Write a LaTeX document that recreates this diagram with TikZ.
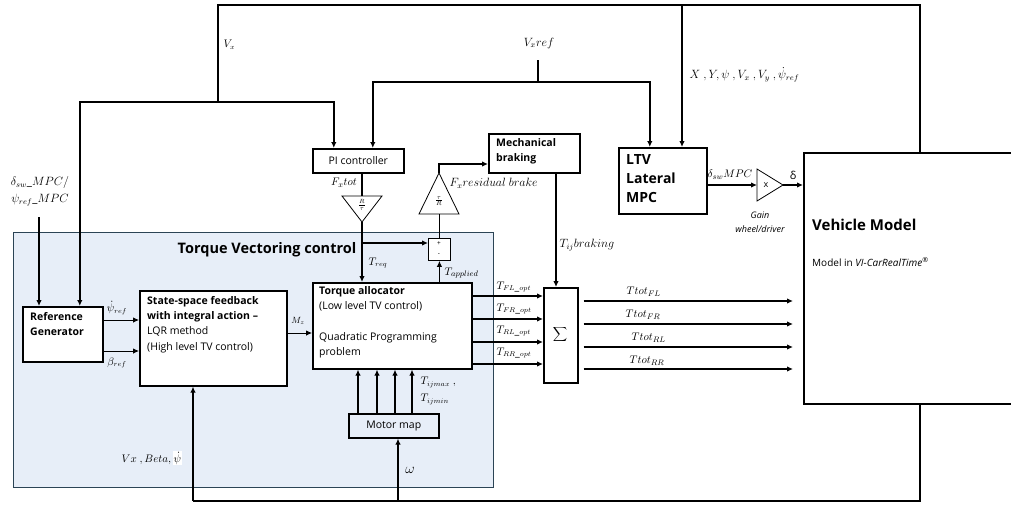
\documentclass[tikz,border=0pt]{standalone}
\usepackage{fontspec}
\setmainfont{Open Sans}
\usetikzlibrary{arrows.meta}
\definecolor{tvf}{HTML}{E7EEF8}
\definecolor{tvb}{HTML}{2B4455}
\setlength\fboxsep{0.5pt}
\begin{document}
\begin{tikzpicture}[x=1pt,y=-1pt,
  ln/.style={line width=1.6pt},
  tn/.style={line width=0.8pt},
  md/.style={line width=1.2pt},
  arr/.style={-{Latex[length=6pt,width=5.5pt]}},
  box/.style={draw,line width=1.6pt,fill=white,inner sep=0pt,anchor=north west},
  txt/.style={inner sep=0pt,anchor=north west,align=left,font=\fontsize{10.5}{15.3}\selectfont},
  btxt/.style={txt,font=\fontsize{10.5}{15.3}\selectfont\bfseries},
  lab/.style={inner sep=0.5pt,font=\fontsize{10.5}{11}\selectfont},
]
\useasboundingbox (0,0) rectangle (1011,504);

% Torque vectoring region
\node[draw=tvb,fill=tvf,line width=0.8pt,inner sep=0pt,anchor=north west,
      minimum width=480pt,minimum height=255pt] (tv) at (13,232) {};
\node[inner sep=0pt,font=\fontsize{14.5}{14.5}\selectfont\bfseries] (tvt) at (267,250) {Torque Vectoring control};

% boxes
\node[box,minimum width=80pt,minimum height=55pt] (rg) at (22,306) {};
\node[btxt] (rgt) at (30,312) {Reference\\Generator};

\node[box,minimum width=147pt,minimum height=95pt] (ss) at (139,290) {};
\node[txt] (sst) at (147,296) {\textbf{State-space feedback}\\\textbf{with integral action --}\\LQR method\\(High level TV control)};

\node[box,minimum width=159pt,minimum height=86pt] (ta) at (312,282) {};
\node[txt] (tat) at (319,286) {\textbf{Torque allocator}\\(Low level TV control)\\[15.3pt]Quadratic Programming\\problem};

\node[box,fill=tvf,minimum width=90pt,minimum height=24pt,font=\fontsize{10.5}{12}\selectfont] (mm) at (348,413) {Motor map};

\node[box,minimum width=91pt,minimum height=24pt,font=\fontsize{10.5}{12}\selectfont] (pi) at (312,148) {PI controller};

\node[box,minimum width=91pt,minimum height=39pt] (mb) at (488,133) {};
\node[btxt] (mbt) at (496,138) {Mechanical\\braking};

\node[box,minimum width=88pt,minimum height=66pt] (ltv) at (618,147) {};
\node[txt,font=\fontsize{14}{19}\selectfont\bfseries] (ltvt) at (626,154) {LTV\\Lateral\\MPC};

\node[box,minimum width=34pt,minimum height=95pt] (sg) at (543,287) {};
\node[inner sep=0pt,font=\fontsize{21}{21}\selectfont] (sgt) at (560,334.5) {$\displaystyle\sum$};

\node[draw,tn,fill=white,inner sep=0pt,anchor=north west,minimum width=22pt,minimum height=22pt] (pm) at (428,238) {};
\node[inner sep=0pt,font=\fontsize{6.5}{6.5}\selectfont] (pmp) at (439,243.5) {+};
\node[inner sep=0pt,font=\fontsize{6.5}{6.5}\selectfont] (pmm) at (439,254.5) {-};

\node[box,minimum width=212pt,minimum height=251pt] (vm) at (803,152) {};
\node[inner sep=0pt,anchor=west,font=\fontsize{15}{15}\selectfont\bfseries] (vmt) at (812,225) {Vehicle Model};
\node[inner sep=0pt,anchor=west,font=\fontsize{10}{12}\selectfont] (vms) at (812,262) {Model in \textit{VI-CarRealTime}\textsuperscript{®}};

% triangles
\coordinate (t1top) at (362,196);
\coordinate (t1ap) at (362,222);
\draw[tn,fill=white] (342,196) -- (382,196) -- (t1ap) -- cycle;
\node[inner sep=0pt,font=\fontsize{8}{8}\selectfont] (t1l) at (362,205) {$\frac{R}{\tau}$};

\coordinate (t2base) at (439,214);
\coordinate (t2ap) at (439,173);
\draw[tn,fill=white] (419,214) -- (459,214) -- (t2ap) -- cycle;
\node[inner sep=0pt,font=\fontsize{8}{8}\selectfont] (t2l) at (439,201) {$\frac{\tau}{R}$};

\coordinate (gl) at (757,185);
\coordinate (gt) at (783,185);
\draw[tn,fill=white] (757,169) -- (gt) -- (757,201) -- cycle;
\node[inner sep=0pt,font=\fontsize{9}{9}\selectfont] (gx) at (766,185) {x};
\node[inner sep=0pt,align=center,font=\fontsize{9}{14}\selectfont\itshape] (gtx) at (760,222) {Gain\\wheel/driver};

% top feedback loop
\coordinate (ja) at (218,5);
\coordinate (jb) at (218,102);
\coordinate (jc) at (682,5);
\draw[ln] ([xshift=10pt]vm.north) |- (ja) -- (jb);
\draw[ln,arr] (jb) -| ([xshift=17pt]rg.north);
\draw[ln,arr] (jb) -| ([xshift=-24.5pt]pi.north);
\draw[ln,arr] (jc) -- (ltv.north -| jc);
\node[lab,anchor=west] (vxl) at (223,45) {$V_x$};
\node[lab,anchor=west,font=\fontsize{11.5}{12}\selectfont] (xyl) at (689,75) {$X\ ,Y,\psi\ ,V_x\ ,V_y\ ,\dot{\psi}_{ref}$};

% Vx ref
\coordinate (vr) at (538,60);
\coordinate (vrj) at (538,82);
\draw[ln] (vr) -- (vrj);
\draw[ln,arr] (vrj) -| ([xshift=14.5pt]pi.north);
\draw[ln,arr] (vrj) -| ([xshift=-13pt]ltv.north);
\node[lab,font=\fontsize{11.5}{12}\selectfont] (vrl) at (539,43) {$V_x ref$};

% delta_sw input
\coordinate (dsw) at (39,217);
\draw[ln,arr] (dsw) -- (dsw |- rg.north);
\node[lab,align=center,font=\fontsize{11.5}{17}\selectfont] (dswl) at (40,191) {$\delta_{sw}\_MPC/$\\$\psi_{ref}\_MPC$};

% reference generator -> state space
\draw[tn,arr] (rg.east |- 0,320) -- (ss.west |- 0,320);
\draw[tn,arr] (rg.east |- 0,351) -- (ss.west |- 0,351);
\node[lab] (psl) at (117,308) {$\dot{\psi}_{ref}$};
\node[lab] (bel) at (117,363) {$\beta_{ref}$};

% state space -> allocator
\draw[tn,arr] (ss.east |- 0,333) -- (ta.west |- 0,333);
\node[lab,font=\fontsize{9}{9}\selectfont] (mzl) at (298,321) {$M_z$};

% PI -> gain -> allocator
\draw[ln] (pi.south -| t1top) -- (t1top);
\draw[ln,arr] (t1ap) -- (ta.north -| t1ap);
\node[lab,font=\fontsize{11}{12}\selectfont] (fxl) at (344,183) {$F_x tot$};
\coordinate (br) at (362,243);
\draw[ln,arr] (br) -- (pm.west |- br);
\node[lab,anchor=west] (trl) at (368,263) {$T_{req}$};

% applied torque
\draw[ln,arr] (ta.north -| pm) -- (pm.south);
\node[lab,anchor=west,font=\fontsize{11}{12}\selectfont] (tal) at (444,273) {$T_{applied}$};
\draw[ln] (pm.north) -- (pm.north |- t2base);
\draw[ln,arr] (t2ap) |- (mb.west |- 0,164);
\node[lab,anchor=west,font=\fontsize{11.5}{12}\selectfont] (frl) at (449,183) {$F_x residual\ brake$};

% mechanical braking -> sum
\draw[ln,arr] (mb.south -| 556,0) -- (sg.north -| 556,0);
\node[lab,anchor=west,font=\fontsize{11.5}{12}\selectfont] (tbl) at (559,245) {$T_{ij}braking$};

% allocator -> sum
\foreach \yy/\nm in {296/FL,319/FR,342/RL,364/RR}{
  \draw[md,arr] (ta.east |- 0,\yy) -- (sg.west |- 0,\yy);
}
\node[lab,anchor=west] (l1) at (496,287) {$T_{FL\_opt}$};
\node[lab,anchor=west] (l2) at (496,309) {$T_{FR\_opt}$};
\node[lab,anchor=west] (l3) at (496,331) {$T_{RL\_opt}$};
\node[lab,anchor=west] (l4) at (496,353) {$T_{RR\_opt}$};

% sum -> vehicle
\foreach \yy in {301,324,347,369}{
  \draw[ln,arr,shorten <=5pt,shorten >=10pt] (sg.east |- 0,\yy) -- (vm.west |- 0,\yy);
}
\node[lab,anchor=west,font=\fontsize{11}{12}\selectfont] (o1) at (626,292) {$Ttot_{FL}$};
\node[lab,anchor=west,font=\fontsize{11}{12}\selectfont] (o2) at (625,315) {$Ttot_{FR}$};
\node[lab,anchor=west,font=\fontsize{11}{12}\selectfont] (o3) at (631,338) {$Ttot_{RL}$};
\node[lab,anchor=west,font=\fontsize{11}{12}\selectfont] (o4) at (629,361) {$Ttot_{RR}$};

% motor map -> allocator
\foreach \xx in {358,377,395,412}{
  \draw[ln,arr] (mm.north -| \xx,0) -- (ta.south -| \xx,0);
}
\node[lab,anchor=west,align=left,font=\fontsize{10.5}{17}\selectfont] (tml) at (420,391) {$T_{ijmax}\ ,$\\$T_{ijmin}$};

% LTV -> gain -> vehicle
\draw[ln,arr] (ltv.east |- gl) -- (gl);
\draw[ln,arr] (gt) -- (vm.west |- gt);
\node[lab,anchor=west,font=\fontsize{11}{12}\selectfont] (dml) at (707,175) {$\delta_{sw}MPC$};
\node[inner sep=0pt,font=\fontsize{11}{11}\selectfont] (dl) at (793,175) {δ};

% bottom feedback loop
\coordinate (b1) at (193,501);
\coordinate (b2) at (398,501);
\draw[ln] ([xshift=10pt]vm.south) |- (b1);
\draw[ln,arr] (b1) -- (ss.south -| b1);
\draw[ln,arr] (b2) -- (mm.south -| b2);
\node[lab,anchor=west,font=\fontsize{11}{12}\selectfont] (vbl) at (121,458) {$Vx\ ,Beta,$\,\colorbox{white}{$\dot{\psi}$}};
\node[lab,font=\fontsize{14}{14}\selectfont] (oml) at (410,470) {$\omega$};
\end{tikzpicture}
\end{document}
